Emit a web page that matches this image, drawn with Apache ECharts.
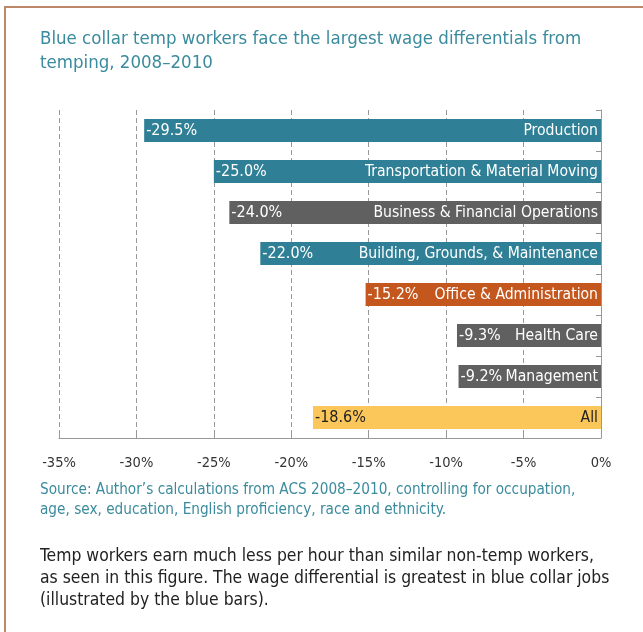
<!DOCTYPE html>
<html><head><meta charset="utf-8">
<script src="https://cdn.jsdelivr.net/npm/echarts@6/dist/echarts.min.js"></script>
<style>html,body{margin:0;padding:0;background:#fff}#c{width:643px;height:632px}</style>
</head><body><div id="c"></div>
<script>
const categories = ['Production','Transportation & Material Moving','Business & Financial Operations','Building, Grounds, & Maintenance','Office & Administration','Health Care','Management','All'];
const values = [-29.5,-25.0,-24.0,-22.0,-15.2,-9.3,-9.2,-18.6];
const groups = ['blue','blue','gray','blue','orange','gray','gray','all'];
const tickValues = [-35,-30,-25,-20,-15,-10,-5,0];
const titleText = 'Blue collar temp workers face the largest wage differentials from\ntemping, 2008\u20132010';
const sourceText = 'Source: Author\u2019s calculations from ACS 2008\u20132010, controlling for occupation,\nage, sex, education, English proficiency, race and ethnicity.';
const noteText = 'Temp workers earn much less per hour than similar non-temp workers,\nas seen in this figure. The wage differential is greatest in blue collar jobs\n(illustrated by the blue bars).';

const palette = {blue:'#2f7f96', gray:'#606060', orange:'#c4571e', all:'#fcc75a'};
const FONT = "'Liberation Sans Narrow','DejaVu Sans Condensed','Arial Narrow',sans-serif";
const chart = echarts.init(document.getElementById('c'));
chart.setOption({
  animation:false,
  textStyle:{fontFamily:FONT},
  title:{text:titleText,left:35,top:22,textStyle:{fontFamily:FONT,fontSize:18.5,fontWeight:'normal',color:'#3a8b9d',lineHeight:24}},
  graphic:[
    {type:'rect',shape:{x:5,y:7,width:800,height:800},style:{fill:'none',stroke:'#bd8868',lineWidth:2},silent:true},
    {type:'text',left:40,top:480,style:{text:sourceText,font:"15.2px "+FONT,fill:'#3a8b9d',lineHeight:20}},
    {type:'text',left:40,top:545,style:{text:noteText,font:"17.4px "+FONT,fill:'#222',lineHeight:22}}
  ],
  grid:{left:59,right:42,top:110,bottom:194},
  xAxis:{type:'value',min:-35,max:0,interval:5,
    axisLine:{show:true,lineStyle:{color:'#999'}},
    axisTick:{show:true,inside:true,length:6,lineStyle:{color:'#999'}},
    axisLabel:{margin:18,fontSize:14.5,color:'#333',fontFamily:FONT,formatter:v=>tickValues.includes(v)?v+'%':''},
    splitLine:{show:true,lineStyle:{type:[5,3],color:'#999'}}},
  yAxis:{type:'category',data:categories,inverse:true,position:'right',
    axisLine:{show:true,lineStyle:{color:'#999'}},
    axisTick:{show:true,inside:true,length:5,lineStyle:{color:'#999'}},
    axisLabel:{show:false}},
  series:[
    {type:'bar',barWidth:23,
     data:values.map((v,i)=>({value:v,itemStyle:{color:palette[groups[i]]},
       label:{color:groups[i]==='all'?'#222':'#fff'}})),
     label:{show:true,position:'insideLeft',distance:2,fontSize:16,fontFamily:FONT,formatter:p=>p.value.toFixed(1)+'%'}},
    {type:'bar',barWidth:23,barGap:'-100%',
     data:values.map((v,i)=>({value:v,label:{color:groups[i]==='all'?'#222':'#fff'}})),
     itemStyle:{color:'rgba(0,0,0,0)'},
     label:{show:true,position:'insideRight',distance:3,fontSize:15.6,fontFamily:FONT,formatter:p=>p.name}}
  ]
});
</script></body></html>
